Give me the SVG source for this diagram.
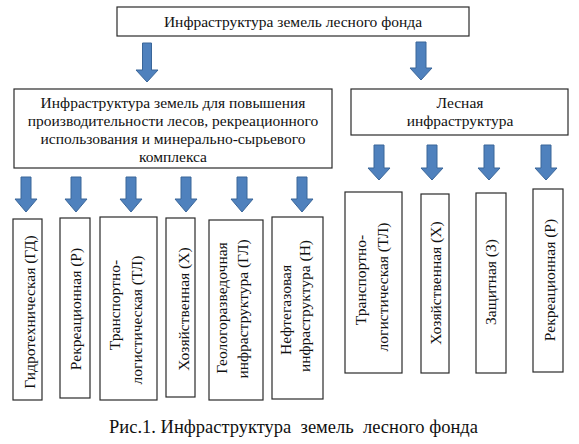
<svg xmlns="http://www.w3.org/2000/svg" width="579" height="444" viewBox="0 0 579 444" font-family="Liberation Serif, DejaVu Serif, serif">
<style>
.box{fill:#fff;stroke:#2a2a2a;stroke-width:1.2}
.t,.v,.cap{fill:#111;text-anchor:middle}
.t,.v{font-size:15.5px}
.cap{font-size:18.5px}
.arr{fill:#4F81BD;stroke:#3A6699;stroke-width:1}
</style>
<rect width="579" height="444" fill="#fff"/>
<g id="connectors">
<path class="arr" d="M142.5,43 H151.5 V70 H158 L147,82 L136,70 H142.5 Z"/>
<path class="arr" d="M416,42 H426 V68 H432 L421,80 L410,68 H416 Z"/>
<path class="arr" d="M21,177 H31 V199 H37 L26,212 L15,199 H21 Z"/>
<path class="arr" d="M71,177 H81 V199 H87 L76,212 L65,199 H71 Z"/>
<path class="arr" d="M126,177 H136 V199 H142 L131,212 L120,199 H126 Z"/>
<path class="arr" d="M181,177 H191 V199 H197 L186,212 L175,199 H181 Z"/>
<path class="arr" d="M237,177 H247 V199 H253 L242,212 L231,199 H237 Z"/>
<path class="arr" d="M297,177 H307 V199 H313 L302,212 L291,199 H297 Z"/>
<path class="arr" d="M374,145 H384 V168 H390 L379,180 L368,168 H374 Z"/>
<path class="arr" d="M427,145 H437 V168 H443 L432,180 L421,168 H427 Z"/>
<path class="arr" d="M484,145 H494 V168 H500 L489,180 L478,168 H484 Z"/>
<path class="arr" d="M541,145 H551 V168 H557 L546,180 L535,168 H541 Z"/>
</g>
<g id="root">
<rect class="box" x="117" y="7" width="352" height="29"/>
<text class="t" x="293" y="27">Инфраструктура земель лесного фонда</text>
</g>
<g id="left">
<rect class="box" x="14" y="89" width="318" height="79"/>
<text class="t" x="173" y="108">Инфраструктура земель для повышения</text>
<text class="t" x="173" y="126">производительности лесов, рекреационного</text>
<text class="t" x="173" y="144">использования и минерально-сырьевого</text>
<text class="t" x="173" y="162">комплекса</text>
</g>
<g id="right">
<rect class="box" x="351" y="89" width="217" height="46"/>
<text class="t" x="460" y="108">Лесная</text>
<text class="t" x="460" y="126">инфраструктура</text>
</g>
<g id="l1">
<rect class="box" x="13" y="219" width="29" height="181"/>
<text class="v" transform="translate(35,312) rotate(-90)">Гидротехническая (ГД)</text>
</g>
<g id="l2">
<rect class="box" x="60" y="218" width="30" height="180"/>
<text class="v" transform="translate(81,309) rotate(-90)">Рекреационная (Р)</text>
</g>
<g id="l3">
<rect class="box" x="100" y="217" width="57" height="183"/>
<text class="v" transform="translate(120,305) rotate(-90)">Транспортно-</text>
<text class="v" transform="translate(142,320) rotate(-90)">логистическая (ТЛ)</text>
</g>
<g id="l4">
<rect class="box" x="166" y="218" width="29" height="179"/>
<text class="v" transform="translate(189,309) rotate(-90)">Хозяйственная (Х)</text>
</g>
<g id="l5">
<rect class="box" x="209" y="220" width="54" height="180"/>
<text class="v" transform="translate(227,308) rotate(-90)">Геологоразведочная</text>
<text class="v" transform="translate(248,309) rotate(-90)">инфраструктура (ГЛ)</text>
</g>
<g id="l6">
<rect class="box" x="272" y="217" width="51" height="182"/>
<text class="v" transform="translate(291,310) rotate(-90)">Нефтегазовая</text>
<text class="v" transform="translate(310,306) rotate(-90)">инфраструктура (Н)</text>
</g>
<g id="r1">
<rect class="box" x="345" y="192" width="57" height="181"/>
<text class="v" transform="translate(366,280) rotate(-90)">Транспортно-</text>
<text class="v" transform="translate(388,287) rotate(-90)">логистическая (ТЛ)</text>
</g>
<g id="r2">
<rect class="box" x="421" y="194" width="28" height="179"/>
<text class="v" transform="translate(441,283) rotate(-90)">Хозяйственная (Х)</text>
</g>
<g id="r3">
<rect class="box" x="476" y="193" width="30" height="180"/>
<text class="v" transform="translate(496,282) rotate(-90)">Защитная (З)</text>
</g>
<g id="r4">
<rect class="box" x="533" y="189" width="30" height="183"/>
<text class="v" transform="translate(555,280) rotate(-90)">Рекреационная (Р)</text>
</g>
<text class="cap" x="293.5" y="433" xml:space="preserve">Рис.1. Инфраструктура  земель  лесного фонда</text>
</svg>
